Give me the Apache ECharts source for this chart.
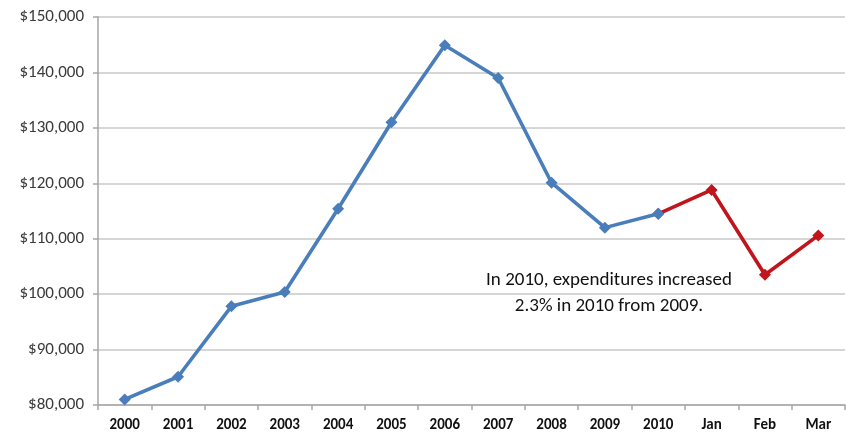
<!DOCTYPE html>
<html>
<head>
<meta charset="utf-8">
<script src="https://cdn.jsdelivr.net/npm/echarts@6/dist/echarts.min.js"></script>
<style>
  html, body { margin: 0; padding: 0; background: #fff; }
  #chart { width: 846px; height: 436px; }
</style>
</head>
<body>
<div id="chart"></div>
<script>
// Categories along the x axis: years, then the first months of 2011
const categories = ['2000', '2001', '2002', '2003', '2004', '2005', '2006', '2007', '2008', '2009', '2010', 'Jan', 'Feb', 'Mar'];

// Annual expenditures 2000–2010
const annualValues = [81000, 85100, 97800, 100400, 115400, 131000, 144900, 139000, 120100, 112000, 114500, null, null, null];

// Monthly figures continuing from the 2010 point
const monthlyValues = [null, null, null, null, null, null, null, null, null, null, 114500, 118800, 103500, 110600];

// Y axis range and step
const yMin = 80000;
const yMax = 150000;
const yStep = 10000;

const noteLines = ['In 2010, expenditures increased', '2.3% in 2010 from 2009.'];

const FONT = 'Carlito, Lato, "Open Sans", sans-serif';

const chart = echarts.init(document.getElementById('chart'));

chart.setOption({
  animation: false,
  backgroundColor: '#ffffff',
  grid: { left: 98, right: 1, top: 17, bottom: 31, containLabel: false },
  xAxis: {
    type: 'category',
    data: categories,
    boundaryGap: true,
    axisLine: { show: true, lineStyle: { color: '#a6a6a6', width: 1.5 } },
    axisTick: { show: true, length: 5, alignWithLabel: false, lineStyle: { color: '#a6a6a6', width: 1.5 } },
    axisLabel: { color: '#111111', fontFamily: FONT, fontSize: 15, fontWeight: 'bold', margin: 13 },
    splitLine: { show: false }
  },
  yAxis: {
    type: 'value',
    min: yMin,
    max: yMax,
    interval: yStep,
    axisLine: { show: true, lineStyle: { color: '#a6a6a6', width: 1.5 } },
    axisTick: { show: true, length: 5, lineStyle: { color: '#a6a6a6', width: 1.5 } },
    axisLabel: {
      color: '#3a3a3a',
      fontFamily: FONT,
      fontSize: 17,
      margin: 14,
      formatter: v => '$' + v.toLocaleString('en-US')
    },
    splitLine: { show: true, lineStyle: { color: '#c8c8c8', width: 1.5 } }
  },
  series: [
    {
      name: 'Monthly',
      type: 'line',
      data: monthlyValues,
      connectNulls: false,
      symbol: 'diamond',
      symbolSize: 12,
      lineStyle: { color: '#c0151c', width: 3.6 },
      itemStyle: { color: '#c0151c' },
      z: 2
    },
    {
      name: 'Annual',
      type: 'line',
      data: annualValues,
      connectNulls: false,
      symbol: 'diamond',
      symbolSize: 12,
      lineStyle: { color: '#4a7ebb', width: 3.6 },
      itemStyle: { color: '#4a7ebb' },
      z: 3
    }
  ],
  graphic: [
    {
      type: 'text',
      x: 609,
      y: 267,
      style: {
        text: noteLines.join('\n'),
        align: 'center',
        verticalAlign: 'top',
        fill: '#111111',
        font: '19px ' + FONT,
        lineHeight: 26
      }
    }
  ]
});
</script>
</body>
</html>
